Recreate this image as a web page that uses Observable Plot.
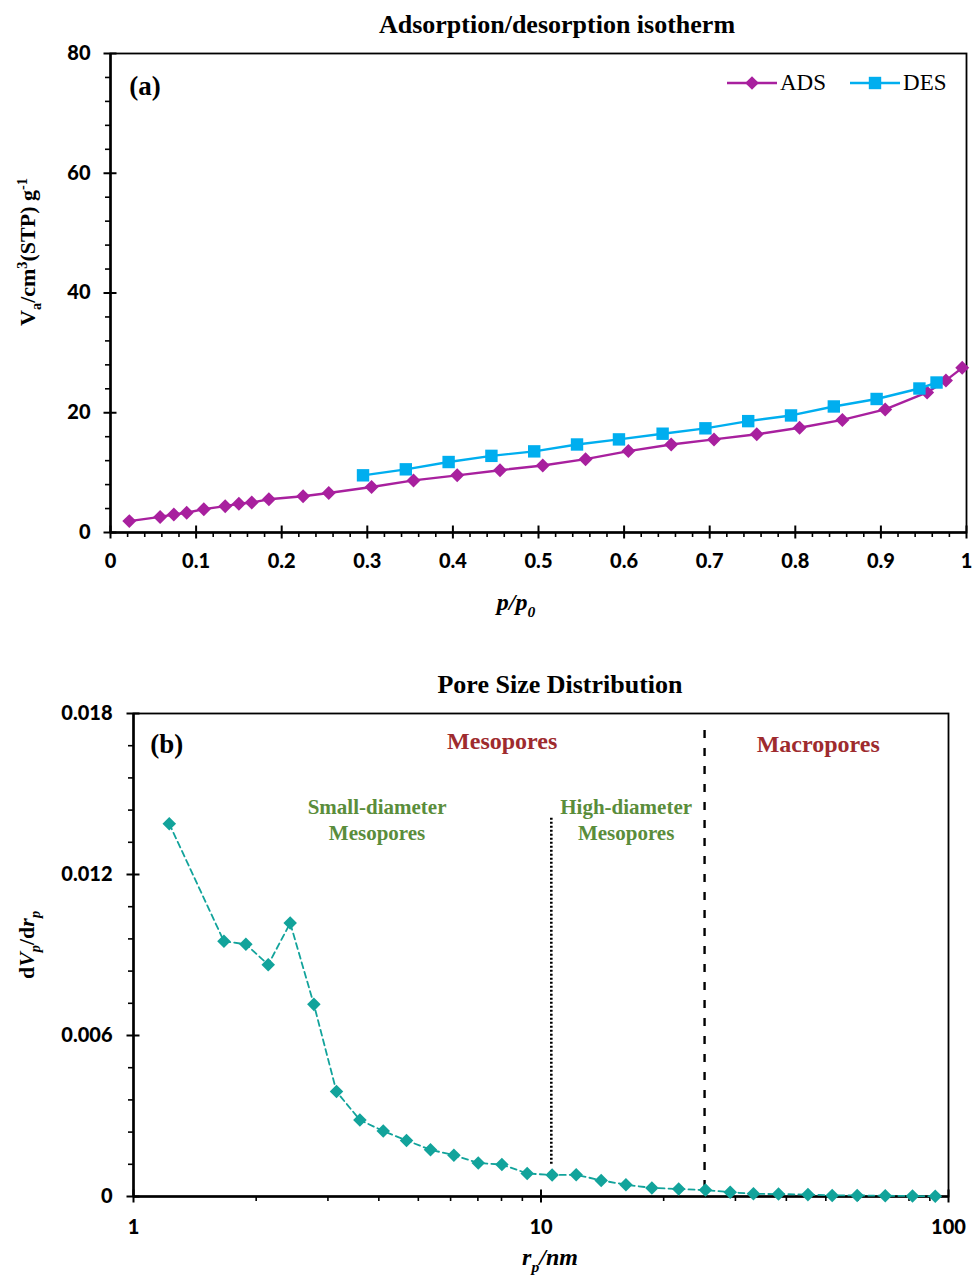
<!DOCTYPE html>
<html><head><meta charset="utf-8">
<script src="https://cdn.jsdelivr.net/npm/d3@7"></script>
<script src="https://cdn.jsdelivr.net/npm/@observablehq/plot@0.6"></script>
<style>
body{margin:0;background:#fff;}
#wrap{position:relative;width:974px;height:1276px;background:#fff;}
#wrap svg{display:block;}
.legend{position:absolute;top:70px;left:727px;display:flex;align-items:center;font-family:"Liberation Serif","Times New Roman",serif;font-size:23px;color:#000;line-height:26px;}
.legend .item{display:flex;align-items:center;}
.legend .item + .item{margin-left:24px;}
.legend svg{margin-right:3px;}
</style></head><body><div id="wrap"></div>
<script>
// ---- Panel (a): adsorption / desorption isotherm ----
const adsP = [0.022,0.058,0.074,0.089,0.109,0.134,0.150,0.165,0.185,0.225,0.255,0.305,0.354,0.405,0.455,0.505,0.555,0.605,0.655,0.705,0.755,0.805,0.855,0.905,0.954,0.976,0.995];
const adsV = [1.9,2.6,3.0,3.3,3.9,4.4,4.8,5.0,5.55,6.05,6.6,7.6,8.7,9.55,10.4,11.2,12.25,13.6,14.7,15.55,16.4,17.5,18.8,20.55,23.4,25.4,27.5];
const desP = [0.295,0.345,0.395,0.445,0.495,0.545,0.594,0.645,0.695,0.745,0.795,0.845,0.895,0.945,0.965];
const desV = [9.55,10.55,11.77,12.8,13.55,14.7,15.55,16.5,17.4,18.6,19.55,21.05,22.3,24.05,25.05];
const xTicksA = [0,0.1,0.2,0.3,0.4,0.5,0.6,0.7,0.8,0.9,1];
const xMinorA = [0.02,0.04,0.06,0.08,0.12,0.14,0.16,0.18,0.22,0.24,0.26,0.28,0.32,0.34,0.36,0.38,0.42,0.44,0.46,0.48,0.52,0.54,0.56,0.58,0.62,0.64,0.66,0.68,0.72,0.74,0.76,0.78,0.82,0.84,0.86,0.88,0.92,0.94,0.96,0.98];
const yTicksA = [0,20,40,60,80];
const yMinorA = [4,8,12,16,24,28,32,36,44,48,52,56,64,68,72,76];
const seriesNames = ["ADS","DES"];

// ---- Panel (b): pore size distribution ----
const rp = [1.224,1.667,1.887,2.141,2.424,2.771,3.149,3.594,4.101,4.677,5.356,6.113,7.015,8.017,9.25,10.65,12.2,14.05,16.16,18.71,21.77,25.33,29.13,33.22,38.27,45.19,51.83,59.7,69.95,81.6,92.8];
const dvdr = [0.01389,0.00951,0.0094,0.00864,0.01019,0.00716,0.00391,0.00285,0.00244,0.00209,0.00174,0.00154,0.00125,0.00119,0.00086,0.0008,0.00081,0.0006,0.00044,0.00032,0.00028,0.00024,0.00016,0.0001,0.00009,0.00007,0.00004,0.00004,0.00003,0.00002,0.00001];
const xTicksB = [1,10,100];
const xMinorB = [2,3,4,5,6,7,8,9,20,30,40,50,60,70,80,90];
const yTicksB = [0,0.006,0.012,0.018];
const yMinorB = [0.0012,0.0024,0.0036,0.0048,0.0072,0.0084,0.0096,0.0108,0.0132,0.0144,0.0156,0.0168];
// region boundaries (dotted at ~10.6 nm, dashed at ~25 nm)
const boundX = [10.6, 25.2];
const boundTop = [0.0141, 0.0177];
const boundBottom = [0.0012, 0.0003];
const regionLabels = ["Mesopores","Macropores"];
const subLabels = [["Small-diameter","Mesopores"],["High-diameter","Mesopores"]];

const ADS_C = "#A8209E", DES_C = "#00AEEF", TEAL = "#12A39B", RED = "#9E2B2E", GREEN = "#5A8D3B";
const SERIF = '"Liberation Serif","Times New Roman",serif';
const SANS = 'Lato,"Open Sans",sans-serif';

const ads = adsP.map((p,i)=>({p, v: adsV[i]}));
const des = desP.map((p,i)=>({p, v: desV[i]}));
const psd = rp.map((r,i)=>({r, d: dvdr[i]}));
const bounds = boundX.map((x,i)=>({x, y1: boundBottom[i], y2: boundTop[i]}));

const fmtA = d => (d === 0 || d === 1) ? String(d) : d.toFixed(1);
const fmtB = d => d === 0 ? "0" : d.toFixed(3);
const tickText = {fontSize: 20, fontWeight: "900", fontFamily: SANS, fill: "black", label: null};

function rich(svg, {x, y, rotate = 0, size, parts, anchor = "middle"}) {
  const t = d3.select(svg).append("text")
    .attr("transform", `translate(${x},${y}) rotate(${rotate})`)
    .attr("text-anchor", anchor)
    .attr("font-family", SERIF).attr("font-weight", "bold")
    .attr("font-size", size).attr("fill", "black");
  let shift = 0;
  for (const p of parts) {
    const target = p.sub ? size * 0.28 : p.sup ? -size * 0.38 : 0;
    const ts = t.append("tspan").text(p.t).attr("dy", target - shift);
    if (p.sub || p.sup) ts.attr("font-size", size * 0.65);
    if (p.it) ts.attr("font-style", "italic");
    shift = target;
  }
  return t;
}

const plotA = Plot.plot({
  width: 974, height: 640,
  marginLeft: 110, marginRight: 8, marginTop: 53, marginBottom: 108,
  x: {domain: [0, 1]},
  y: {domain: [0, 80]},
  style: {fontFamily: SANS, color: "black", background: "white", overflow: "visible"},
  marks: [
    Plot.frame({stroke: "black", strokeWidth: 1.8}),
    Plot.axisX({ticks: xMinorA, tickSize: 5, fill: "none", strokeWidth: 1.6, label: null}),
    Plot.axisX({ticks: xTicksA, tickSize: 13, dy: -6.5, fill: "none", strokeWidth: 2, label: null}),
    Plot.axisX({ticks: xTicksA, tickSize: 0, tickPadding: 21, tickFormat: fmtA, ...tickText}),
    Plot.axisY({ticks: yMinorA, tickSize: 5, fill: "none", strokeWidth: 1.6, label: null}),
    Plot.axisY({ticks: yTicksA, tickSize: 13, dx: 6.5, fill: "none", strokeWidth: 2, label: null}),
    Plot.axisY({ticks: yTicksA, tickSize: 0, tickPadding: 20, tickFormat: d => String(d), ...tickText}),
    Plot.ruleX([0], {stroke: "black", strokeWidth: 2.5}),
    Plot.ruleY([0], {stroke: "black", strokeWidth: 2.5}),
    Plot.line(ads, {x: "p", y: "v", stroke: ADS_C, strokeWidth: 2.4}),
    Plot.dot(ads, {x: "p", y: "v", symbol: "diamond2", r: 6.3, fill: ADS_C, stroke: "none"}),
    Plot.line(des, {x: "p", y: "v", stroke: DES_C, strokeWidth: 2.4}),
    Plot.dot(des, {x: "p", y: "v", symbol: "square", r: 7, fill: DES_C, stroke: "none"}),
    Plot.text([{x: 0.022, y: 74.5, t: "(a)"}], {x: "x", y: "y", text: "t", textAnchor: "start", fontFamily: SERIF, fontWeight: "bold", fontSize: 27, fill: "black"})
  ]
});

const plotB = Plot.plot({
  width: 974, height: 636,
  marginLeft: 133, marginRight: 26, marginTop: 73, marginBottom: 80,
  x: {type: "log", domain: [1, 100]},
  y: {domain: [0, 0.018]},
  style: {fontFamily: SANS, color: "black", background: "white", overflow: "visible"},
  marks: [
    Plot.frame({stroke: "black", strokeWidth: 1.8}),
    Plot.axisX({ticks: xMinorB, tickSize: 5, fill: "none", strokeWidth: 1.6, label: null}),
    Plot.axisX({ticks: xTicksB, tickSize: 13, dy: -6.5, fill: "none", strokeWidth: 2, label: null}),
    Plot.axisX({ticks: xTicksB, tickSize: 0, tickPadding: 23, tickFormat: d => String(d), ...tickText}),
    Plot.axisY({ticks: yMinorB, tickSize: 5, fill: "none", strokeWidth: 1.6, label: null}),
    Plot.axisY({ticks: yTicksB, tickSize: 13, dx: 6.5, fill: "none", strokeWidth: 2, label: null}),
    Plot.axisY({ticks: yTicksB, tickSize: 0, tickPadding: 21, tickFormat: fmtB, ...tickText}),
    Plot.ruleX([1], {stroke: "black", strokeWidth: 2.5}),
    Plot.ruleY([0], {stroke: "black", strokeWidth: 2.5}),
    Plot.ruleX([bounds[0]], {x: "x", y1: "y1", y2: "y2", stroke: "black", strokeWidth: 2.6, strokeDasharray: "2,2"}),
    Plot.ruleX([bounds[1]], {x: "x", y1: "y1", y2: "y2", stroke: "black", strokeWidth: 2.4, strokeDasharray: "8,10"}),
    Plot.line(psd, {x: "r", y: "d", stroke: TEAL, strokeWidth: 1.8, strokeDasharray: "6,4"}),
    Plot.dot(psd, {x: "r", y: "d", symbol: "diamond2", r: 6.1, fill: TEAL, stroke: "none"}),
    Plot.text([{x: 1.1, y: 0.01686, t: "(b)"}], {x: "x", y: "y", text: "t", textAnchor: "start", fontFamily: SERIF, fontWeight: "bold", fontSize: 27, fill: "black"}),
    Plot.text([{x: 8.03, y: 0.01698, t: regionLabels[0]}, {x: 47.9, y: 0.01686, t: regionLabels[1]}],
      {x: "x", y: "y", text: "t", fontFamily: SERIF, fontWeight: "bold", fontSize: 24, fill: RED}),
    Plot.text([
      {x: 3.96, y: 0.01452, t: subLabels[0][0]}, {x: 3.96, y: 0.01355, t: subLabels[0][1]},
      {x: 16.18, y: 0.01452, t: subLabels[1][0]}, {x: 16.18, y: 0.01355, t: subLabels[1][1]}
    ], {x: "x", y: "y", text: "t", fontFamily: SERIF, fontWeight: "bold", fontSize: 21, fill: GREEN})
  ]
});

// Titles and axis titles (rich text with sub/superscripts)
rich(plotA, {x: 557, y: 33, size: 26, parts: [{t: "Adsorption/desorption isotherm"}]});
rich(plotA, {x: 35, y: 252, rotate: -90, size: 22, parts: [
  {t: "V"}, {t: "a", sub: true}, {t: "/cm"}, {t: "3", sup: true}, {t: "(STP) g"}, {t: "-1", sup: true}]});
rich(plotA, {x: 516, y: 610, size: 24, parts: [{t: "p/p", it: true}, {t: "0", sub: true, it: true}]});

rich(plotB, {x: 560, y: 53, size: 26, parts: [{t: "Pore Size Distribution"}]});
rich(plotB, {x: 34, y: 305, rotate: -90, size: 22, parts: [
  {t: "d"}, {t: "V", it: true}, {t: "p", sub: true, it: true}, {t: "/d"}, {t: "r", it: true}, {t: "p", sub: true, it: true}]});
rich(plotB, {x: 550, y: 625, size: 24, parts: [{t: "r", it: true}, {t: "p", sub: true, it: true}, {t: "/nm", it: true}]});

const wrap = document.getElementById("wrap");
wrap.appendChild(plotA);
wrap.appendChild(plotB);

// Legend (HTML)
const legend = document.createElement("div");
legend.className = "legend";
const swatches = {
  ADS: `<svg width="50" height="20"><line x1="0" y1="10" x2="50" y2="10" stroke="${ADS_C}" stroke-width="2.4"/><path d="M25,3.2 L31.8,10 L25,16.8 L18.2,10Z" fill="${ADS_C}"/></svg>`,
  DES: `<svg width="50" height="20"><line x1="0" y1="10" x2="50" y2="10" stroke="${DES_C}" stroke-width="2.4"/><rect x="18.8" y="3.8" width="12.4" height="12.4" fill="${DES_C}"/></svg>`
};
legend.innerHTML = seriesNames.map(n => `<div class="item">${swatches[n]}<span>${n}</span></div>`).join("");
wrap.appendChild(legend);
</script>
</body></html>
